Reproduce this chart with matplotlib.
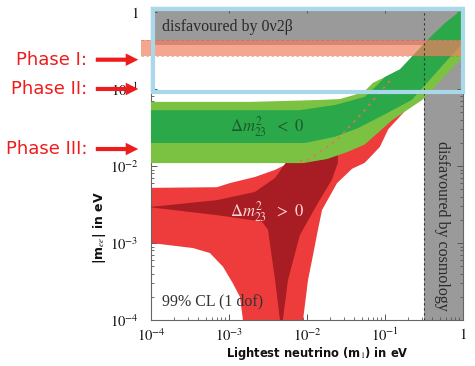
import matplotlib
matplotlib.use("Agg")
import matplotlib.pyplot as plt
from matplotlib.patches import Rectangle, FancyArrowPatch
from matplotlib.ticker import LogLocator, NullFormatter, FixedLocator, FixedFormatter

plt.rcParams['mathtext.fontset'] = 'stix'
plt.rcParams['font.family'] = ['DejaVu Sans']

# ---------------- data ----------------
# inverted hierarchy (green), 3 sigma band
ih3_up_m1 = [1e-4, 1.9e-3, 0.0147, 0.0265, 0.041, 0.055, 0.070, 0.10, 0.156, 0.243, 0.38, 0.59, 1.0]
ih3_up    = [0.068, 0.068, 0.072, 0.074, 0.084, 0.094, 0.12, 0.143, 0.18, 0.29, 0.47, 0.72, 1.1]
ih3_lo_m1 = [1e-4, 8.9e-3, 0.018, 0.0325, 0.055, 0.125, 0.30, 1.0]
ih3_lo    = [0.0109, 0.0109, 0.0123, 0.0151, 0.019, 0.0397, 0.072, 0.26]
# inverted hierarchy, 1 sigma band
ih1_up_m1 = [1e-4, 8e-3, 0.023, 0.055, 0.085, 0.10, 0.156, 0.243, 0.38, 0.59, 1.0]
ih1_up    = [0.053, 0.053, 0.062, 0.079, 0.12, 0.143, 0.18, 0.29, 0.47, 0.72, 1.1]
ih1_lo_m1 = [1e-4, 9.4e-3, 0.023, 0.045, 0.10, 0.22, 1.0]
ih1_lo    = [0.0199, 0.0199, 0.024, 0.031, 0.047, 0.072, 0.40]

# normal hierarchy (red), 3 sigma region outline
nh3_m1 = [1e-4, 7.0e-4, 1.03e-3, 2.15e-3, 3.9e-3, 5.2e-3, 8.1e-3, 0.0103, 0.0243, 0.055, 0.127, 1.0,
          1.0, 0.2, 0.11, 0.086, 0.055, 0.0378, 0.0243, 0.0156, 0.0138, 0.0116, 0.0103, 8.9e-3, 8.7e-3,
          1.5e-3, 1.51e-3, 1.38e-3, 1.12e-3, 8.4e-4, 5.7e-4, 3.45e-4, 1e-4]
nh3_ee = [5.2e-3, 5.3e-3, 6.0e-3, 7.2e-3, 8.9e-3, 0.0103, 0.0116, 0.012, 0.0218, 0.053, 0.143, 1.0,
          0.30, 0.058, 0.03, 0.0177, 0.011, 9.2e-3, 6.0e-3, 2.69e-3, 1.48e-3, 6.0e-4, 3.3e-4, 1e-4, 5e-5,
          5e-5, 1e-4, 2.0e-4, 3.0e-4, 4.9e-4, 7.4e-4, 8.6e-4, 1.0e-3]
# normal hierarchy, 1 sigma region outline
nh1_m1 = [1e-4, 7.0e-4, 2.15e-3, 3.9e-3, 5.5e-3, 0.0249, 0.0249, 0.0208, 0.0138, 8.1e-3, 5.7e-3,
          4.9e-3, 4.8e-3, 4.5e-3, 4.5e-3, 3.9e-3, 3.16e-3, 2.65e-3, 7.0e-4, 1e-4]
nh1_ee = [2.94e-3, 3.6e-3, 4.6e-3, 7.0e-3, 0.0115, 0.014, 0.011, 6.6e-3, 3.3e-3, 1.27e-3, 3.3e-4,
          1e-4, 5e-5, 5e-5, 1e-4, 3.3e-4, 1.48e-3, 1.9e-3, 2.3e-3, 2.9e-3]
# dotted upper edge of normal hierarchy seen through the green band
nh_dot_m1 = [8.1e-3, 0.0103, 0.0243, 0.055, 0.127]
nh_dot_ee = [0.0116, 0.012, 0.0218, 0.053, 0.143]

# excluded / sensitivity regions
bb0v_limit = 0.37          # disfavoured by 0v2beta above this
cosmo_limit = 0.316        # disfavoured by cosmology right of this
phase1_band = (0.27, 0.43)
phase2_box = (0.09, 1.09)
phase_labels = ["Phase I:", "Phase II:", "Phase III:"]
phase_levels = [0.24, 0.10, 0.0166]

xticks = [1e-4, 1e-3, 1e-2, 1e-1, 1]
xtick_labels = [r'$10^{-4}$', r'$10^{-3}$', r'$10^{-2}$', r'$10^{-1}$', r'$1$']
yticks = [1e-4, 1e-3, 1e-2, 1e-1, 1]
ytick_labels = [r'$10^{-4}$', r'$10^{-3}$', r'$10^{-2}$', r'$10^{-1}$', r'$1$']

# ---------------- colours ----------------
GRAY = '#9a9a9a'
LGREEN = '#7cc242'
DGREEN = '#2aa84a'
LRED = '#ee3b3b'
DRED = '#a81c24'
SALMON = '#f08060'
BLUE = '#a8d8ea'

fig = plt.figure(figsize=(4.75, 3.66), dpi=100)
ax = fig.add_axes([151/475, 46/366, 312/475, 313/366])
ax.set_xscale('log')
ax.set_yscale('log')
ax.set_xlim(1e-4, 1)
ax.set_ylim(1e-4, 1.16)

# grey excluded regions
ax.axhspan(bb0v_limit, 10, color=GRAY, lw=0, zorder=1)
ax.axvspan(cosmo_limit, 10, color=GRAY, lw=0, zorder=1)

# normal hierarchy
ax.fill(nh3_m1, nh3_ee, color=LRED, lw=0, zorder=2)
ax.fill(nh1_m1, nh1_ee, color=DRED, lw=0, zorder=3)

# inverted hierarchy
ax.fill(ih3_up_m1 + ih3_lo_m1[::-1], ih3_up + ih3_lo[::-1], color=LGREEN, lw=0, zorder=4)
ax.fill(ih1_up_m1 + ih1_lo_m1[::-1], ih1_up + ih1_lo[::-1], color=DGREEN, lw=0, zorder=5)
ax.plot(nh_dot_m1, nh_dot_ee, color='#e8705a', ls=(0, (1.5, 3)), lw=1.2, zorder=6)

# phase I band (extends slightly outside the axes on the left)
band = Rectangle((7.5e-5, phase1_band[0]), 1.0 - 7.5e-5, phase1_band[1] - phase1_band[0],
                 facecolor=SALMON, alpha=0.7, lw=0, zorder=6, clip_on=False)
ax.add_patch(band)
for yv in phase1_band:
    ax.plot([7.5e-5, 1.0], [yv, yv], color='#c06050', lw=0.6, ls=(0, (3, 3)), alpha=0.5,
            zorder=6, clip_on=False)

# cosmology dashed line
ax.axvline(cosmo_limit, color='#333333', lw=0.8, ls=(0, (2, 2.5)), zorder=7)

# phase II box
box = Rectangle((1.07e-4, phase2_box[0]), 1.0 - 1.07e-4, phase2_box[1] - phase2_box[0],
                facecolor='none', edgecolor=BLUE, lw=3.0, zorder=8, clip_on=False)
ax.add_patch(box)

# texts inside axes
ax.text(0.035, 0.936, 'disfavoured by 0ν2β', transform=ax.transAxes,
        fontsize=11.5, family=['Liberation Serif', 'DejaVu Serif'], color='#2a2a2a',
        va='center', ha='left', zorder=9)
ax.text(0.933, 0.30, 'disfavoured by cosmology', transform=ax.transAxes, rotation=-90,
        fontsize=11.5, family='Liberation Serif', color='#2a2a2a', va='center', ha='center', zorder=9)
ax.text(0.372, 0.617, r'$\Delta m^2_{23}\ \ <\ 0$', transform=ax.transAxes,
        fontsize=12, color='#1d5a2a', va='center', ha='center', zorder=9)
ax.text(0.372, 0.345, r'$\Delta m^2_{23}\ \ >\ 0$', transform=ax.transAxes,
        fontsize=12, color='#ffd6d6', va='center', ha='center', zorder=9)
ax.text(0.035, 0.058, '99% CL (1 dof)', transform=ax.transAxes,
        fontsize=11.5, family='Liberation Serif', color='#333333', va='center', ha='left', zorder=9)

# ticks
ax.xaxis.set_major_locator(FixedLocator(xticks))
ax.xaxis.set_major_formatter(FixedFormatter(xtick_labels))
ax.yaxis.set_major_locator(FixedLocator(yticks))
ax.yaxis.set_major_formatter(FixedFormatter(ytick_labels))
ax.xaxis.set_minor_locator(LogLocator(base=10, subs=range(2, 10), numticks=20))
ax.yaxis.set_minor_locator(LogLocator(base=10, subs=range(2, 10), numticks=20))
ax.xaxis.set_minor_formatter(NullFormatter())
ax.yaxis.set_minor_formatter(NullFormatter())
ax.tick_params(which='both', direction='in', top=True, right=True, color='#555555',
               labelsize=10.5, labelcolor='#111111')
ax.tick_params(which='major', length=4, width=0.7)
ax.tick_params(which='minor', length=2.5, width=0.6)
ax.tick_params(axis='x', pad=5)
ax.tick_params(axis='y', pad=9)
for s in ax.spines.values():
    s.set_color('#666666')
    s.set_linewidth(0.8)

# axis labels
fig.text(317/475, 13/366, r'Lightest neutrino (m$_1$) in eV', ha='center', va='center',
         fontsize=8.3, fontweight='bold', color='#111111')
fig.text(100/475, (366-228)/366, r'|m$_{ee}$| in eV', ha='center', va='center', rotation=90,
         fontsize=9, fontweight='bold', color='#111111')

# phase labels and arrows
blend = matplotlib.transforms.blended_transform_factory(fig.transFigure, ax.transData)
for lab, lev in zip(phase_labels, phase_levels):
    ax.annotate(lab, xy=(87/475, lev), xycoords=('figure fraction', 'data'),
                ha='right', va='center', fontsize=13, color='#ee1c1c', annotation_clip=False)
    arr = FancyArrowPatch((93/475, lev), (141/475, lev), transform=blend,
                          arrowstyle='simple,head_width=0.9,head_length=0.9,tail_width=0.3',
                          mutation_scale=10, color='#ee1c1c', lw=0, clip_on=False, zorder=10)
    fig.patches.append(arr)

fig.savefig('out.png', dpi=100)
